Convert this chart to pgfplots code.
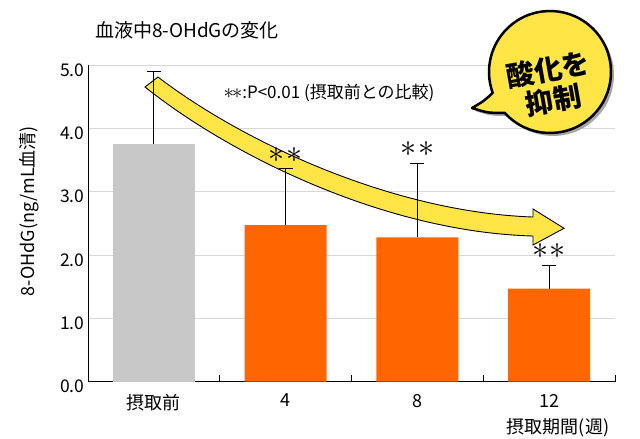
\documentclass[border=0pt]{standalone}
\usepackage{fix-cm}
\usepackage{fontspec}
\setmainfont{Noto Sans CJK JP}
\usepackage{pgfplots}
\pgfplotsset{compat=1.18}
\definecolor{barorange}{RGB}{255,102,0}
\definecolor{bargray}{RGB}{200,200,200}
\definecolor{arrowyellow}{RGB}{255,230,70}
\definecolor{gridgray}{RGB}{215,215,215}
\begin{document}
\begin{tikzpicture}
\useasboundingbox (0,0) rectangle (640pt,439pt);
\begin{axis}[
  at={(88pt,57.4pt)}, anchor=south west,
  scale only axis, width=527pt, height=316.5pt,
  xmin=-0.5, xmax=3.5, ymin=0, ymax=5,
  axis x line*=bottom, axis y line*=left,
  axis line style={black, line width=1pt},
  xtick={0,1,2,3}, xticklabels={摂取前,4,8,12},
  minor xtick={-0.5,0.5,1.5,2.5,3.5},
  ytick={0,1,2,3,4,5},
  tick align=inside,
  major tick length=0pt, minor tick length=7pt,
  minor x tick style={black, line width=0.8pt},
  ymajorgrids, grid style={gridgray, line width=0.8pt},
  yticklabel style={/pgf/number format/fixed, /pgf/number format/fixed zerofill, /pgf/number format/precision=1, /pgf/number format/assume math mode=true, font=\fontsize{17.5}{17.5}\selectfont, yshift=-5pt},
  xticklabel style={font=\fontsize{18}{18}\selectfont, yshift=-9pt},
  clip=false,
]
\filldraw[fill=arrowyellow, draw=black, line width=0.9pt, line join=miter]
 (axis cs:0.0313,4.812) .. controls (axis cs:0.6537,3.817) and (axis cs:1.7922,2.679) .. (axis cs:2.8776,2.600)
 -- (axis cs:2.8776,2.727) -- (axis cs:3.1129,2.422) -- (axis cs:2.8776,2.158) -- (axis cs:2.8776,2.300)
 .. controls (axis cs:1.7543,2.363) and (axis cs:0.5778,3.580) .. (axis cs:-0.0674,4.654) -- cycle;
\addplot[ybar, bar width=82pt, bar shift=0pt, fill=bargray, draw=none,
  error bars/.cd, y dir=plus, y explicit,
  error bar style={black, line width=0.8pt},
  error mark options={rotate=90, black, mark size=7pt, line width=0.8pt}]
  coordinates {(0,3.75) +- (0,1.15)};
\addplot[ybar, bar width=82pt, bar shift=0pt, fill=barorange, draw=none,
  error bars/.cd, y dir=plus, y explicit,
  error bar style={black, line width=0.8pt},
  error mark options={rotate=90, black, mark size=7pt, line width=0.8pt}]
  coordinates {(1,2.47) +- (0,0.90) (2,2.28) +- (0,1.17) (3,1.47) +- (0,0.37)};
\node[font=\fontsize{32}{32}\selectfont] at (axis cs:1,3.58) {$\ast\mkern1mu\ast$};
\node[font=\fontsize{32}{32}\selectfont] at (axis cs:2,3.675) {$\ast\mkern1mu\ast$};
\node[font=\fontsize{32}{32}\selectfont] at (axis cs:3,2.063) {$\ast\mkern1mu\ast$};
\end{axis}
\begin{scope}[x=1pt,y=1pt]
\node[font=\fontsize{19}{19}\selectfont] at (187,409) {血液中8-OHdGの変化};
\node[rotate=90, font=\fontsize{18}{18}\selectfont] at (29,228) {8-OHdG(ng/mL血清)};
\node[font=\fontsize{18}{18}\selectfont] at (558,11) {摂取期間(週)};
\node[font=\fontsize{17}{17}\selectfont] at (329,346) {{\fontsize{21}{21}\selectfont$\ast\mkern-2mu\ast$}:P<0.01 (摂取前との比較)};
\fill[black!35] (507.67,323.18) arc[start angle=222, end angle=560, radius=61]
  .. controls (487,335) .. (475,328) .. controls (491,323) .. (507.67,323.18) -- cycle;
\filldraw[fill=arrowyellow, draw=black, line width=2.5pt, line join=round]
  (504.67,326.18) arc[start angle=222, end angle=560, radius=61]
  .. controls (484,338) .. (472,331) .. controls (488,326) .. (504.67,326.18) -- cycle;
\node[font=\fontsize{28}{31}\selectfont\bfseries, rotate=10, align=center] at (551,354) {酸化を\\抑制};
\end{scope}
\end{tikzpicture}
\end{document}
